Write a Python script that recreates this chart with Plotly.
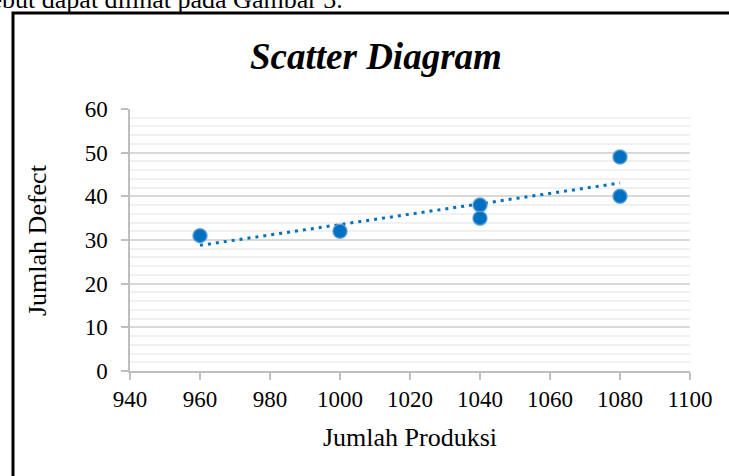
import numpy as np
import plotly.graph_objects as go

# Data
jumlah_produksi = [960, 1000, 1040, 1040, 1080, 1080]
jumlah_defect = [31, 32, 38, 35, 49, 40]
x_ticks = [940, 960, 980, 1000, 1020, 1040, 1060, 1080, 1100]
y_ticks = [0, 10, 20, 30, 40, 50, 60]

# Linear trend line computed from data
slope, intercept = np.polyfit(jumlah_produksi, jumlah_defect, 1)
trend_x = [min(jumlah_produksi), max(jumlah_produksi)]
trend_y = [slope * v + intercept for v in trend_x]

W, H = 729, 476
L, R, T, B = 130, 39, 109, 105
pw, ph = W - L - R, H - T - B

def px(x):
    return (x - L) / pw

def py(y):
    return 1 - (y - T) / ph

FONT = "Liberation Serif, Times New Roman, serif"
BLUE = "#0070C0"

fig = go.Figure()
fig.add_trace(go.Scatter(
    x=trend_x, y=trend_y, mode="lines",
    line=dict(color=BLUE, width=3, dash="3px,5px"),
    hoverinfo="skip", showlegend=False,
))
fig.add_trace(go.Scatter(
    x=jumlah_produksi, y=jumlah_defect, mode="markers",
    marker=dict(color=BLUE, size=14, line=dict(color="rgba(91,155,213,0.85)", width=1.5)),
    showlegend=False,
))

fig.update_layout(
    width=W, height=H,
    margin=dict(l=L, r=R, t=T, b=B),
    paper_bgcolor="white", plot_bgcolor="white",
    font=dict(family=FONT, size=23, color="#000000"),
    showlegend=False,
    annotations=[
        dict(text="<b><i>Scatter Diagram</i></b>", xref="paper", yref="paper",
             x=px(376), y=py(57), xanchor="center", yanchor="middle",
             showarrow=False, font=dict(family=FONT, size=37, color="#000000")),
        dict(text="tersebut dapat dilihat pada Gambar 3.", xref="paper", yref="paper",
             x=px(345), y=py(-1), xanchor="right", yanchor="middle",
             showarrow=False, font=dict(family=FONT, size=26, color="#000000")),
        dict(text="Jumlah Produksi", xref="paper", yref="paper",
             x=px(410), y=py(437), xanchor="center", yanchor="middle",
             showarrow=False, font=dict(family=FONT, size=26, color="#000000")),
        dict(text="Jumlah Defect", xref="paper", yref="paper", textangle=-90,
             x=px(37), y=py(240), xanchor="center", yanchor="middle",
             showarrow=False, font=dict(family=FONT, size=26, color="#000000")),
    ],
    shapes=[
        dict(type="rect", xref="paper", yref="paper",
             x0=px(13), x1=px(760), y0=py(13), y1=py(520),
             line=dict(color="black", width=3), fillcolor="rgba(0,0,0,0)", layer="above"),
    ],
)

fig.update_xaxes(
    range=[940, 1100], tickvals=x_ticks, ticktext=[str(v) for v in x_ticks],
    showgrid=False, zeroline=False,
    showline=True, linecolor="#BFBFBF", linewidth=1.5,
    ticks="outside", ticklen=7, tickcolor="#BFBFBF", tickwidth=1.5,
    ticklabelstandoff=0,
    tickfont=dict(family=FONT, size=23, color="#000000"),
)
fig.update_yaxes(
    range=[0, 60], tickvals=y_ticks, ticktext=[str(v) for v in y_ticks],
    showgrid=True, gridcolor="#D9D9D9", gridwidth=1.5,
    minor=dict(dtick=2, tick0=0, showgrid=True, gridcolor="#F0F0F0", gridwidth=1.5),
    zeroline=False,
    showline=True, linecolor="#BFBFBF", linewidth=1.5,
    ticks="outside", ticklen=7, tickcolor="#BFBFBF", tickwidth=1.5,
    ticklabelstandoff=9,
    tickfont=dict(family=FONT, size=23, color="#000000"),
)

fig.write_html("out.html", config={"displayModeBar": False},
               post_script="document.body.style.margin='0px';")
